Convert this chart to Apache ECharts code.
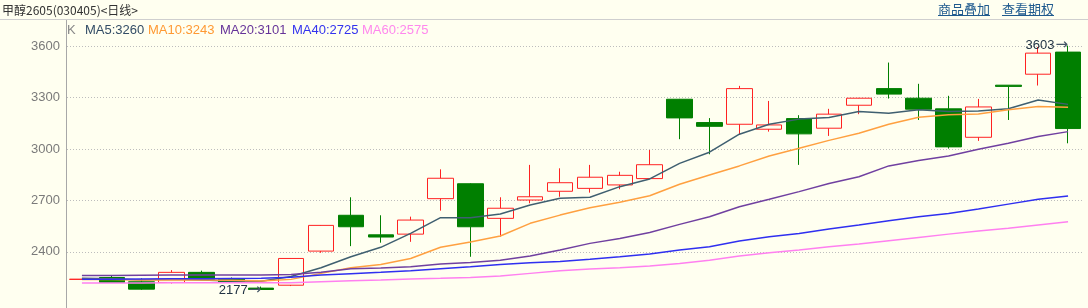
<!DOCTYPE html>
<html>
<head>
<meta charset="utf-8">
<script src="https://cdn.jsdelivr.net/npm/echarts@6/dist/echarts.min.js"></script>
<style>
html,body{margin:0;padding:0;background:#FFFFF0;}
#c{width:1088px;height:308px;}
</style>
</head>
<body>
<div id="c"></div>
<script>
// ---- data ----
const categories = ['1','2','3','4','5','6','7','8','9','10','11','12','13','14','15','16','17','18','19','20','21','22','23','24','25','26','27','28','29','30','31','32','33','34'];
const openV  = [2239,2250,2225,2221,2280,2240,2188,2205,2404,2613,2499,2503,2710,2797,2595,2702,2753,2770,2790,2827,3290,3154,3144,3115,3177,3121,3255,3352,3296,3234,3068,3372,3436,3565];
const closeV = [2240,2221,2182,2280,2240,2222,2180,2361,2554,2546,2486,2585,2829,2546,2654,2721,2803,2835,2846,2908,3181,3132,3352,3140,3088,3203,3296,3320,3232,3012,3245,3365,3559,3119];
const lowV   = [2237,2218,2178,2215,2238,2218,2177,2200,2394,2433,2453,2458,2640,2371,2488,2683,2721,2745,2765,2825,3057,2969,3082,3101,2907,3076,3203,3294,3169,3002,3047,3169,3370,3033];
const highV  = [2241,2260,2245,2293,2290,2250,2197,2363,2556,2718,2613,2605,2881,2800,2718,2907,2887,2907,2867,2994,3292,3180,3368,3280,3197,3234,3298,3504,3380,3310,3292,3372,3595,3603];
const ma5  = [2245,2243,2236,2240,2235,2230,2228,2256,2307,2371,2426,2507,2599,2599,2620,2673,2712,2718,2780,2825,2916,2981,3086,3144,3174,3183,3218,3208,3228,3218,3222,3234,3286,3260];
const ma10 = [2238,2238,2235,2237,2236,2234,2230,2239,2274,2307,2326,2361,2426,2457,2492,2566,2614,2657,2689,2727,2794,2848,2901,2959,3004,3050,3092,3144,3185,3199,3204,3228,3247,3243];
const ma20 = [2262,2262,2263,2264,2264,2265,2265,2268,2280,2301,2305,2312,2328,2338,2351,2375,2410,2449,2478,2513,2560,2604,2663,2706,2751,2798,2838,2901,2932,2959,2998,3033,3072,3101];
const ma40 = [2240,2240,2241,2242,2243,2244,2245,2252,2264,2272,2280,2289,2301,2312,2326,2336,2344,2356,2371,2387,2410,2429,2463,2488,2507,2533,2556,2581,2604,2624,2649,2678,2706,2725];
const ma60 = [2218,2218,2218,2219,2219,2219,2219,2219,2225,2231,2235,2241,2245,2250,2258,2274,2289,2299,2307,2317,2332,2351,2375,2394,2410,2429,2445,2465,2484,2503,2521,2537,2556,2575];
const yTicks = [2400,2700,3000,3300,3600];
const maNames = ['MA5','MA10','MA20','MA40','MA60'];
const maLast = [3260,3243,3101,2725,2575];
const maxMark = [33, 3603];
const minMark = [6, 2177];
const titleText = '甲醇2605(030405)<日线>';
const linkTexts = ['商品叠加','查看期权'];

// ---- styling ----
const FONT = "'Liberation Sans', 'Noto Sans CJK SC', sans-serif";
const CJK = "'Noto Sans CJK SC', 'Liberation Sans', sans-serif";
const BG = '#FFFFF0';
const UP = '#FF2222';
const DOWN = '#007F00';
const maLineColors = ['#3F5F70','#FFA040','#7040A0','#2F2FF0','#FF80F0'];
const maTextColors = ['#334D66','#FF9933','#663399','#3333EE','#FF88EE'];
const legendX = [85,148,220,292,362];

const candleData = categories.map((c, i) => [openV[i], closeV[i], lowV[i], highV[i]]);
const maSeriesData = [ma5, ma10, ma20, ma40, ma60];

const chart = echarts.init(document.getElementById('c'), null, {renderer: 'canvas'});

const graphics = [
  {type:'rect', z:100, shape:{x:0,y:0,width:1088,height:19.5}, style:{fill:BG}},
  {type:'line', z:101, shape:{x1:0,y1:19.5,x2:1088,y2:19.5}, style:{stroke:'#CFCFCF', lineWidth:1}},
  {type:'line', z:101, shape:{x1:66.5,y1:20,x2:66.5,y2:308}, style:{stroke:'#A8A8A8', lineWidth:1}},
  {type:'text', z:101, x:2, y:10, style:{text:titleText, fill:'#333333', font:'12px ' + CJK, align:'left', verticalAlign:'middle'}},
  {type:'text', z:101, x:938, y:9, style:{text:linkTexts[0], fill:'#1F5A8E', font:'13px ' + CJK, align:'left', verticalAlign:'middle'}},
  {type:'text', z:101, x:1002, y:9, style:{text:linkTexts[1], fill:'#1F5A8E', font:'13px ' + CJK, align:'left', verticalAlign:'middle'}},
  {type:'line', z:101, shape:{x1:938,y1:15.5,x2:990,y2:15.5}, style:{stroke:'#1F5A8E', lineWidth:1}},
  {type:'line', z:101, shape:{x1:1002,y1:15.5,x2:1054,y2:15.5}, style:{stroke:'#1F5A8E', lineWidth:1}},
  {type:'text', z:101, x:67, y:30.5, style:{text:'K', fill:'#888888', font:'13px ' + FONT, align:'left', verticalAlign:'middle'}}
];
maNames.forEach((n, i) => {
  graphics.push({type:'text', z:101, x:legendX[i], y:30.5,
    style:{text:n + ':' + maLast[i], fill:maTextColors[i], font:'13px ' + FONT, align:'left', verticalAlign:'middle'}});
});

const markRich = {
  t:{color:'#223344', fontSize:13, fontFamily:FONT},
  a:{color:'#445566', fontSize:15, fontFamily:"'DejaVu Sans', sans-serif", padding:[0,0,0,1]}
};
const series = [{
  type:'candlestick',
  data:candleData,
  barWidth:26,
  z:2,
  itemStyle:{color:'transparent', color0:DOWN, borderColor:UP, borderColor0:DOWN, borderWidth:1},
  markPoint:{
    symbol:'circle', symbolSize:0, silent:true, animation:false,
    label:{show:true, position:'left', distance:0, rich:markRich},
    data:[
      {coord:[categories[maxMark[0]], maxMark[1]], value:maxMark[1], label:{formatter: '{t|' + maxMark[1] + '}{a|→}'}},
      {coord:[categories[minMark[0]], minMark[1]], value:minMark[1], label:{formatter: '{t|' + minMark[1] + '}{a|→}'}}
    ]
  }
}];
maSeriesData.forEach((d, i) => {
  series.push({type:'line', name:maNames[i], data:d, showSymbol:false, symbol:'none', z:3,
    lineStyle:{color:maLineColors[i], width:1.5}, itemStyle:{color:maLineColors[i]}});
});

chart.setOption({
  animation:false,
  backgroundColor:BG,
  grid:{left:67, right:5, top:0, bottom:4.8, containLabel:false},
  xAxis:{type:'category', data:categories, boundaryGap:true,
    axisLine:{show:false}, axisTick:{show:false}, axisLabel:{show:false}, splitLine:{show:false}},
  yAxis:{type:'value', min:2100, max:3869, interval:300, scale:false,
    axisLine:{show:false}, axisTick:{show:false},
    axisLabel:{show:true, margin:7, color:'#7A7A7A', fontSize:13, fontFamily:FONT,
      showMinLabel:false, showMaxLabel:false,
      formatter:v => yTicks.indexOf(v) >= 0 ? String(v) : ''},
    splitLine:{show:true, showMinLine:false, showMaxLine:false, lineStyle:{color:'#BDBDBD', type:[1,2], width:1}}},
  series:series,
  graphic:graphics
});
</script>
</body>
</html>
